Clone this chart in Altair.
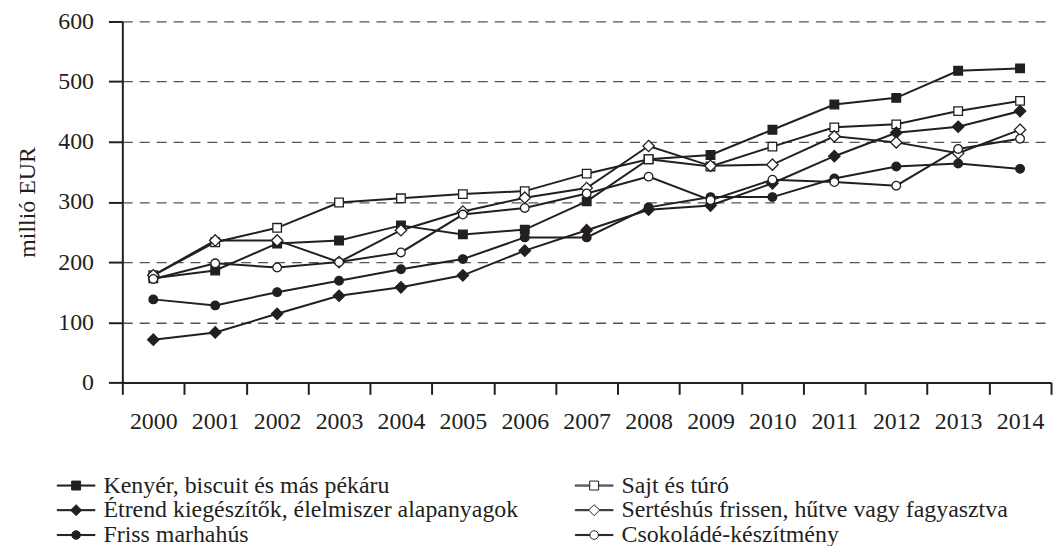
import altair as alt
import pandas as pd

years = list(range(2000, 2015))
series_names = [
    "Kenyér, biscuit és más pékáru",
    "Sajt és túró",
    "Étrend kiegészítők, élelmiszer alapanyagok",
    "Sertéshús frissen, hűtve vagy fagyasztva",
    "Friss marhahús",
    "Csokoládé-készítmény",
]
kenyer = [173, 186, 231, 236, 261, 246, 254, 301, 371, 378, 420, 462, 473, 518, 522]
sajt = [178, 233, 257, 299, 306, 313, 318, 347, 371, 359, 392, 424, 429, 451, 468]
etrend = [71, 83, 114, 144, 158, 178, 219, 253, 287, 294, 331, 376, 415, 425, 451]
sertes = [178, 236, 236, 200, 253, 284, 307, 323, 393, 360, 362, 409, 399, 381, 420]
friss = [138, 128, 150, 169, 188, 205, 241, 241, 291, 308, 308, 339, 359, 364, 355]
csoki = [172, 198, 191, 200, 216, 279, 290, 314, 342, 303, 337, 333, 327, 388, 405]
all_values = [kenyer, sajt, etrend, sertes, friss, csoki]
y_ticks = [0, 100, 200, 300, 400, 500, 600]

rows = []
for name, vals in zip(series_names, all_values):
    for yr, v in zip(years, vals):
        rows.append({"year": yr, "value": v, "series": name})
df = pd.DataFrame(rows)

ink = "#231f20"
font = "Liberation Serif"
fills = [ink, "white", ink, "white", ink, "white"]
strokes = [ink] * len(series_names)

# plot markers
diamond = "M0,-1.32L1.32,0L0,1.32L-1.32,0Z"
marker_shapes = ["square", "square", diamond, diamond, "circle", "circle"]

# legend symbols: line with marker
L, R, c, h = -1.0, 2.167, 0.583, 0.045
s, d, r = 0.375, 0.46, 0.36
line_full = f"M{L},{-h}H{R}V{h}H{L}Z "
line_split = f"M{L},{-h}H{c - s}V{h}H{L}Z M{c + s},{-h}H{R}V{h}H{c + s}Z "
line_split_d = f"M{L},{-h}H{c - d}V{h}H{L}Z M{c + d},{-h}H{R}V{h}H{c + d}Z "
line_split_c = f"M{L},{-h}H{c - r}V{h}H{L}Z M{c + r},{-h}H{R}V{h}H{c + r}Z "
sq = f"M{c - s},{-s}H{c + s}V{s}H{c - s}Z"
dm = f"M{c},{-d}L{c + d},0L{c},{d}L{c - d},0Z"
ci = f"M{c + r},0A{r},{r} 0 1,1 {c - r},0A{r},{r} 0 1,1 {c + r},0Z"
legend_shapes = [
    line_full + sq,
    line_split + sq,
    line_full + dm,
    line_split_d + dm,
    line_full + ci,
    line_split_c + ci,
]

tick_vals = [y - 0.5 for y in years] + [years[-1] + 0.5]
band_half = 934 / len(years) / 2

x_enc = alt.X(
    "year:Q",
    scale=alt.Scale(domain=[years[0] - 0.5, years[-1] + 0.5], nice=False, zero=False),
    axis=alt.Axis(
        values=tick_vals,
        labelExpr=f"datum.value < {years[-1]} ? format(datum.value + 0.5, 'd') : ''",
        labelOffset=band_half,
        title=None,
        grid=False,
        tickSize=12,
        tickWidth=2,
        tickColor=ink,
        domainWidth=2,
        domainColor=ink,
        labelFont=font,
        labelFontSize=24,
        labelColor=ink,
        labelPadding=15,
        labelFlush=False,
        labelOverlap=False,
    ),
)
y_enc = alt.Y(
    "value:Q",
    scale=alt.Scale(domain=[y_ticks[0], y_ticks[-1]], nice=False),
    axis=alt.Axis(
        values=y_ticks,
        title="millió EUR",
        titleFont=font,
        titleFontSize=24,
        titleFontWeight="normal",
        titleColor=ink,
        titleX=-95,
        titleY=181.5,
        titleAngle=270,
        titleBaseline="middle",
        titleAlign="center",
        grid=True,
        gridDash=[10, 7],
        gridColor="#555555",
        gridWidth=1.3,
        tickSize=14,
        tickWidth=2,
        tickColor=ink,
        domainWidth=2,
        domainColor=ink,
        labelFont=font,
        labelFontSize=24,
        labelColor=ink,
        labelPadding=15,
    ),
)

lines = alt.Chart(df).mark_line(color=ink, strokeWidth=2).encode(
    x=x_enc, y=y_enc, detail="series:N"
)

points = alt.Chart(df).mark_point(
    filled=True, stroke=ink, strokeWidth=1.3, opacity=1, size=75
).encode(
    x=x_enc,
    y=y_enc,
    shape=alt.Shape("series:N", scale=alt.Scale(domain=series_names, range=marker_shapes), legend=None),
    fill=alt.Fill("series:N", scale=alt.Scale(domain=series_names, range=fills), legend=None),
)

leg = alt.Legend(
    orient="none",
    legendX=-66,
    legendY=454,
    direction="horizontal",
    columns=2,
    title=None,
    labelFont=font,
    labelFontSize=24,
    labelColor=ink,
    labelLimit=700,
    symbolSize=576,
    labelOffset=22,
    rowPadding=-1,
    columnPadding=54,
    padding=0,
    symbolStrokeWidth=1,
    symbolStrokeColor=ink,
    symbolOpacity=1,
)

legend_layer = alt.Chart(df).transform_filter("datum.value < 0").mark_point(
    filled=True, strokeWidth=1, opacity=1
).encode(
    x=x_enc,
    y=y_enc,
    shape=alt.Shape("series:N", scale=alt.Scale(domain=series_names, range=legend_shapes), legend=leg),
    fill=alt.Fill("series:N", scale=alt.Scale(domain=series_names, range=fills), legend=leg),
    stroke=alt.Stroke("series:N", scale=alt.Scale(domain=series_names, range=strokes), legend=leg),
)

chart = (
    alt.layer(lines, points, legend_layer)
    .resolve_scale(shape="independent", fill="independent", stroke="independent")
    .properties(
        width=934,
        height=363,
        autosize=alt.AutoSizeParams(type="none"),
        padding={"left": 115, "top": 12, "right": 5, "bottom": 163},
    )
    .configure_view(stroke=None)
)

chart.save("out.html", embed_options={"renderer": "svg", "actions": False})
